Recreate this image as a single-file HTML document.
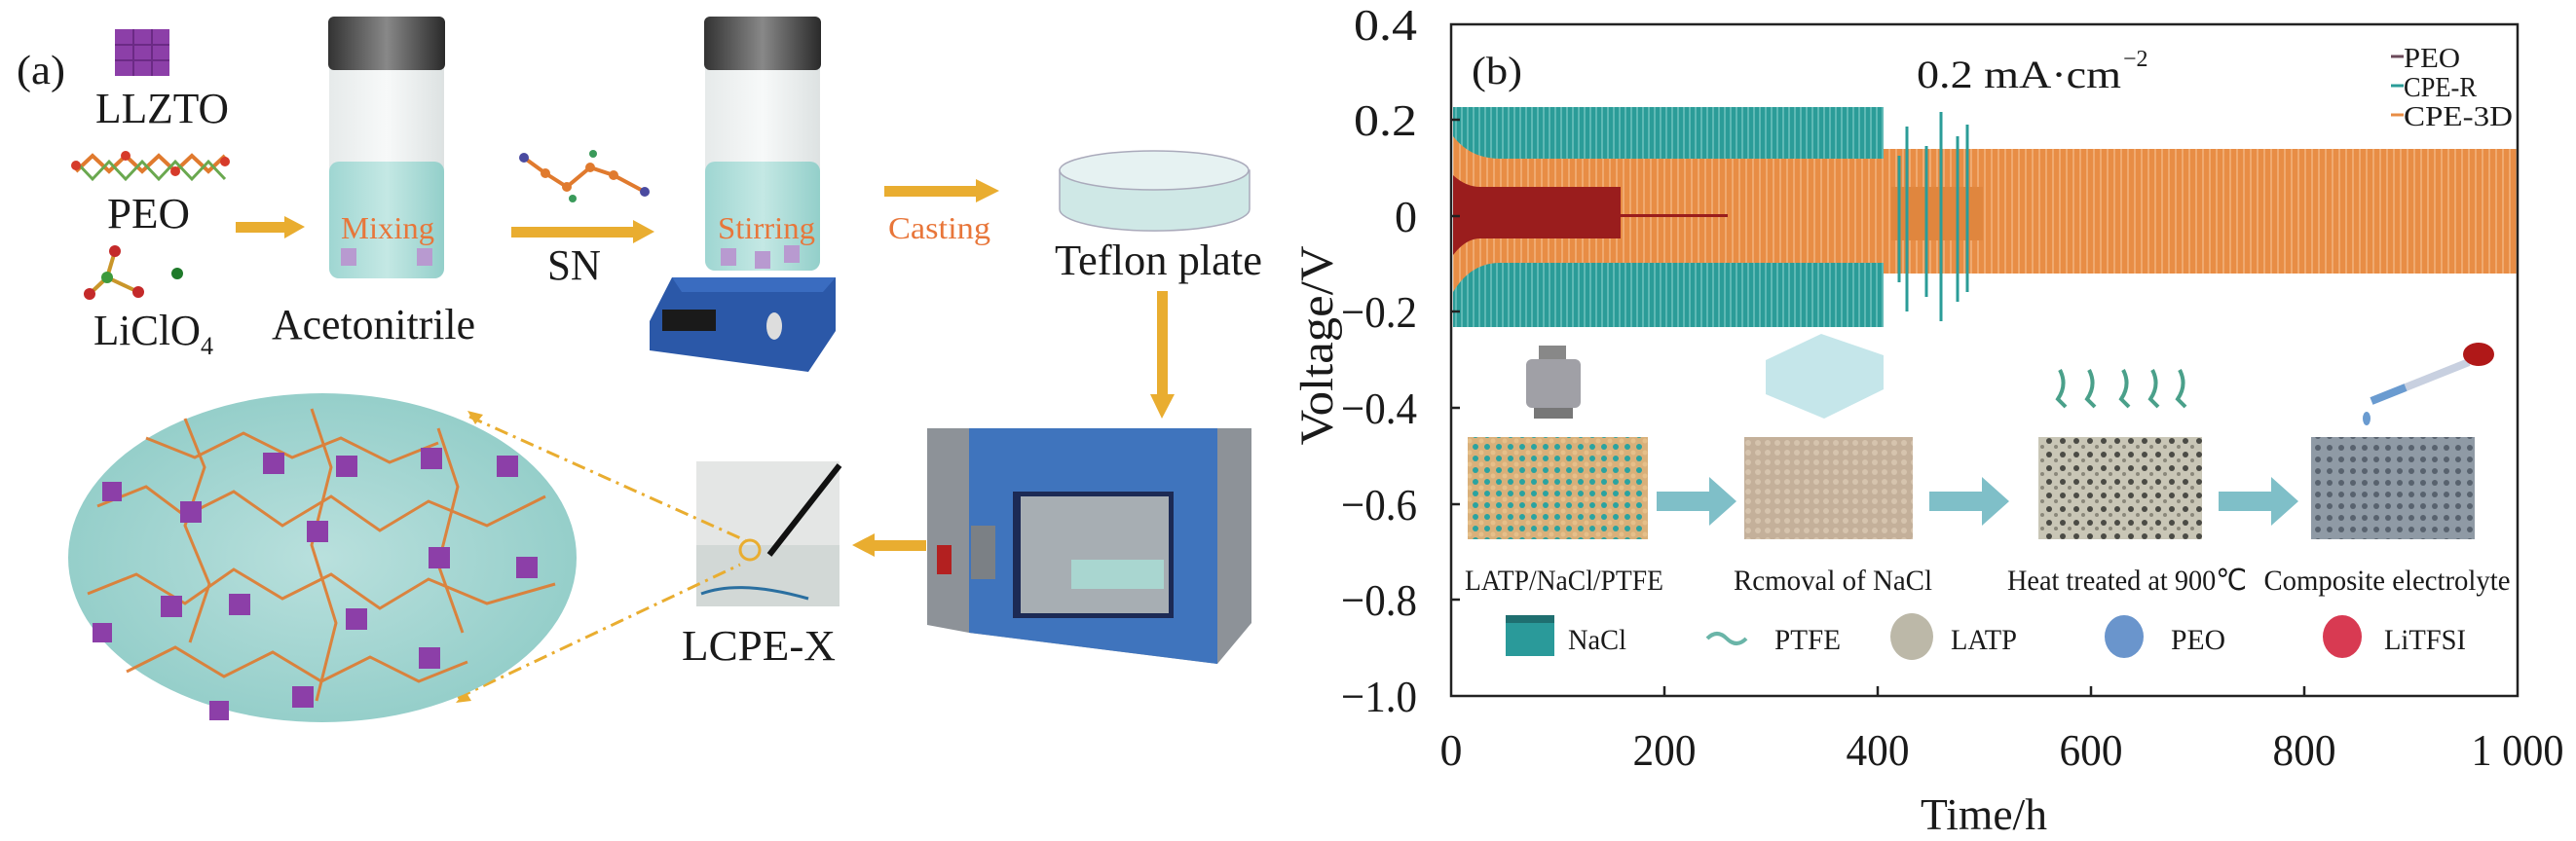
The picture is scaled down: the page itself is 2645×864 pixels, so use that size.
<!DOCTYPE html>
<html><head><meta charset="utf-8"><style>
html,body{margin:0;padding:0;background:#fff;}
svg{display:block;}
text{font-family:"Liberation Serif",serif;fill:#1a1a1a;}
</style></head><body>
<svg width="2645" height="864" viewBox="0 0 2645 864" xmlns="http://www.w3.org/2000/svg">
<defs>
<linearGradient id="glass" x1="0" x2="1" y1="0" y2="0">
<stop offset="0" stop-color="#e6eaea"/><stop offset="0.5" stop-color="#f7f9f9"/><stop offset="1" stop-color="#dde2e2"/></linearGradient>
<linearGradient id="liq" x1="0" x2="1"><stop offset="0" stop-color="#9fd6d2"/><stop offset="0.5" stop-color="#c4e8e4"/><stop offset="1" stop-color="#93cfca"/></linearGradient>
<linearGradient id="cap" x1="0" x2="1"><stop offset="0" stop-color="#333"/><stop offset="0.5" stop-color="#888"/><stop offset="1" stop-color="#2a2a2a"/></linearGradient>
<radialGradient id="circ" cx="0.5" cy="0.5" r="0.6"><stop offset="0" stop-color="#b9e0dd"/><stop offset="1" stop-color="#8ecbc6"/></radialGradient>
<pattern id="stripeT" width="6" height="10" patternUnits="userSpaceOnUse"><rect width="6" height="10" fill="#2b9c98"/><rect width="2" height="10" fill="#5fb9b5"/></pattern>
<pattern id="stripeO" width="7" height="10" patternUnits="userSpaceOnUse"><rect width="7" height="10" fill="#e88d45"/><rect width="2" height="10" fill="#f0aa70"/></pattern>
<pattern id="blk1" width="12" height="12" patternUnits="userSpaceOnUse"><rect width="12" height="12" fill="#d9b07a"/><circle cx="3" cy="3" r="3" fill="#2aa3a0"/><circle cx="9" cy="9" r="2.5" fill="#e6c08a"/></pattern>
<pattern id="blk2" width="10" height="10" patternUnits="userSpaceOnUse"><rect width="10" height="10" fill="#c4b09a"/><circle cx="5" cy="5" r="3" fill="#d6c4ae"/></pattern>
<pattern id="blk3" width="14" height="14" patternUnits="userSpaceOnUse"><rect width="14" height="14" fill="#c9c6b6"/><circle cx="4" cy="5" r="3" fill="#4b4b45"/><circle cx="11" cy="11" r="2" fill="#8a877a"/></pattern>
<pattern id="blk4" width="12" height="12" patternUnits="userSpaceOnUse"><rect width="12" height="12" fill="#8f9aa5"/><circle cx="4" cy="4" r="3" fill="#58626e"/></pattern>
</defs>

<!-- ===== Panel (a) ===== -->
<text x="17" y="86" font-size="42" textLength="50" lengthAdjust="spacingAndGlyphs">(a)</text>
<!-- LLZTO cube -->
<rect x="118" y="30" width="56" height="48" fill="#8c3fa8"/>
<g stroke="#6b2a85" stroke-width="2"><line x1="118" y1="46" x2="174" y2="46"/><line x1="118" y1="62" x2="174" y2="62"/><line x1="137" y1="30" x2="137" y2="78"/><line x1="156" y1="30" x2="156" y2="78"/></g>
<text x="98" y="126" font-size="44" textLength="137" lengthAdjust="spacingAndGlyphs">LLZTO</text>
<!-- PEO chain -->
<polyline points="78,176 95,160 112,176 129,160 146,176 163,160 180,176 197,160 214,176 231,160" fill="none" stroke="#e07a2e" stroke-width="4"/>
<polyline points="78,166 95,184 112,166 129,184 146,166 163,184 180,166 197,184 214,166 231,184" fill="none" stroke="#6aa84f" stroke-width="3"/>
<g fill="#d63a2a"><circle cx="78" cy="170" r="5"/><circle cx="129" cy="160" r="5"/><circle cx="180" cy="176" r="5"/><circle cx="231" cy="166" r="5"/></g>
<text x="110" y="234" font-size="44" textLength="85" lengthAdjust="spacingAndGlyphs">PEO</text>
<!-- LiClO4 -->
<g stroke="#c9962a" stroke-width="4"><line x1="110" y1="285" x2="118" y2="258"/><line x1="110" y1="285" x2="92" y2="302"/><line x1="110" y1="285" x2="142" y2="300"/><line x1="110" y1="285" x2="108" y2="290"/></g>
<g fill="#c42a2a"><circle cx="118" cy="258" r="6"/><circle cx="92" cy="302" r="6"/><circle cx="142" cy="300" r="6"/></g>
<circle cx="110" cy="285" r="6" fill="#3d9a3d"/><circle cx="182" cy="281" r="6" fill="#1f7a2a"/>
<text x="96" y="354" font-size="44" textLength="110" lengthAdjust="spacingAndGlyphs">LiClO</text>
<text x="206" y="364" font-size="26">4</text>
<!-- arrow 1 -->
<g fill="#e9ad30"><rect x="242" y="228" width="52" height="11"/><polygon points="292,222 313,233 292,245"/></g>
<!-- vial 1 -->
<rect x="338" y="38" width="118" height="248" rx="10" fill="url(#glass)"/>
<rect x="338" y="166" width="118" height="120" rx="10" fill="url(#liq)"/>
<rect x="337" y="17" width="120" height="55" rx="6" fill="url(#cap)"/>
<text x="350" y="245" font-size="32" fill="#e8763a" style="fill:#e8763a" textLength="96" lengthAdjust="spacingAndGlyphs">Mixing</text>
<rect x="350" y="255" width="16" height="18" fill="#b89ad0"/><rect x="428" y="255" width="16" height="18" fill="#b89ad0"/>
<text x="279" y="348" font-size="44" textLength="209" lengthAdjust="spacingAndGlyphs">Acetonitrile</text>
<!-- SN molecule -->
<polyline points="538,162 560,178 582,192 606,172 630,180 660,196" fill="none" stroke="#e07a2e" stroke-width="4"/>
<g fill="#e07a2e"><circle cx="560" cy="178" r="5"/><circle cx="582" cy="192" r="5"/><circle cx="606" cy="172" r="5"/><circle cx="630" cy="180" r="5"/></g>
<circle cx="538" cy="162" r="5" fill="#4a4aa0"/><circle cx="662" cy="197" r="5" fill="#4a4aa0"/>
<circle cx="609" cy="158" r="4" fill="#3a9a5a"/><circle cx="588" cy="204" r="4" fill="#3a9a5a"/>
<!-- arrow 2 -->
<g fill="#e9ad30"><rect x="525" y="233" width="128" height="11"/><polygon points="650,226 672,238 650,250"/></g>
<text x="562" y="287" font-size="44" textLength="55" lengthAdjust="spacingAndGlyphs">SN</text>
<!-- vial 2 + stirrer -->
<polygon points="667,330 690,285 858,285 858,340 830,382 667,360" fill="#2b58a8"/>
<polygon points="690,285 858,285 845,300 700,300" fill="#3a6cc0"/>
<rect x="680" y="318" width="55" height="22" fill="#1a1a1a"/>
<ellipse cx="795" cy="335" rx="8" ry="14" fill="#ddd"/>
<rect x="724" y="38" width="118" height="240" rx="10" fill="url(#glass)"/>
<rect x="724" y="166" width="118" height="112" rx="10" fill="url(#liq)"/>
<rect x="723" y="17" width="120" height="55" rx="6" fill="url(#cap)"/>
<text x="737" y="245" font-size="32" style="fill:#e8763a" textLength="100" lengthAdjust="spacingAndGlyphs">Stirring</text>
<rect x="740" y="255" width="16" height="18" fill="#b89ad0"/><rect x="775" y="258" width="16" height="18" fill="#b89ad0"/><rect x="805" y="252" width="16" height="18" fill="#b89ad0"/>
<!-- arrow 3 -->
<g fill="#e9ad30"><rect x="908" y="191" width="97" height="11"/><polygon points="1002,184 1026,196 1002,208"/></g>
<text x="912" y="245" font-size="32" style="fill:#e8763a" textLength="105" lengthAdjust="spacingAndGlyphs">Casting</text>
<!-- petri dish -->
<path d="M1088,175 L1088,215 A97,22 0 0 0 1283,215 L1283,175 Z" fill="#cfe8e6" stroke="#aab" stroke-width="1.5"/>
<ellipse cx="1185" cy="175" rx="97" ry="20" fill="#e6f2f2" stroke="#aab" stroke-width="1.5"/>
<text x="1083" y="282" font-size="44" textLength="213" lengthAdjust="spacingAndGlyphs">Teflon plate</text>
<!-- down arrow -->
<g fill="#e9ad30"><rect x="1188" y="299" width="11" height="110"/><polygon points="1181,405 1206,405 1193,430"/></g>
<!-- oven -->
<polygon points="952,440 1285,440 1285,640 1250,682 995,650 952,642" fill="#8d9298"/>
<polygon points="995,440 1250,440 1250,682 995,650" fill="#3f74bd"/>
<rect x="1040" y="505" width="165" height="130" fill="#1c2a55"/>
<rect x="1048" y="510" width="152" height="120" fill="#a7aeb3"/>
<rect x="1100" y="575" width="95" height="30" fill="#a9d6d0"/>
<rect x="962" y="560" width="15" height="30" fill="#b32020"/>
<rect x="997" y="540" width="25" height="55" fill="#7b8085"/>
<!-- left arrow -->
<g fill="#e9ad30"><rect x="895" y="555" width="56" height="11"/><polygon points="898,548 875,560 898,572"/></g>
<!-- photo -->
<rect x="715" y="474" width="147" height="149" fill="#e4e6e5"/>
<rect x="715" y="560" width="147" height="63" fill="#d2d8d6"/>
<line x1="862" y1="478" x2="790" y2="570" stroke="#111" stroke-width="6"/>
<circle cx="770" cy="565" r="10" fill="none" stroke="#e9ad30" stroke-width="3"/>
<path d="M720,610 Q760,595 830,615" stroke="#2a6fa0" stroke-width="3" fill="none"/>
<text x="700" y="678" font-size="44" textLength="158" lengthAdjust="spacingAndGlyphs">LCPE-X</text>
<!-- dashed lines -->
<g stroke="#e9ad30" stroke-width="3" stroke-dasharray="14,6,3,6" fill="none">
<line x1="482" y1="428" x2="765" y2="555"/><line x1="470" y1="717" x2="760" y2="580"/></g>
<polygon points="480,422 496,426 488,436" fill="#e9ad30"/>
<polygon points="468,722 484,720 478,710" fill="#e9ad30"/>
<!-- big circle -->
<ellipse cx="331" cy="573" rx="261" ry="169" fill="url(#circ)"/>
<g stroke="#e07a2e" stroke-width="3" fill="none" opacity="0.9">
<polyline points="100,520 150,500 190,530 240,505 290,540 340,510 390,545 440,515 500,540 560,510"/>
<polyline points="90,610 140,590 190,620 240,585 290,615 340,590 390,625 440,595 500,620 570,600"/>
<polyline points="130,690 180,665 230,695 280,670 330,700 380,675 430,700 480,680"/>
<polyline points="150,450 200,470 250,445 300,470 350,450 400,475 450,455"/>
<polyline points="190,430 210,480 190,540 215,600 195,660"/>
<polyline points="320,420 340,480 320,560 345,640 325,720"/>
<polyline points="450,440 470,500 450,580 475,650"/>
</g>
<g fill="#8c3fa8">
<rect x="270" y="465" width="22" height="22"/><rect x="345" y="468" width="22" height="22"/><rect x="432" y="460" width="22" height="22"/><rect x="510" y="468" width="22" height="22"/>
<rect x="185" y="515" width="22" height="22"/><rect x="315" y="535" width="22" height="22"/><rect x="440" y="562" width="22" height="22"/><rect x="530" y="572" width="22" height="22"/>
<rect x="105" y="495" width="20" height="20"/><rect x="235" y="610" width="22" height="22"/><rect x="355" y="625" width="22" height="22"/><rect x="165" y="612" width="22" height="22"/>
<rect x="430" y="665" width="22" height="22"/><rect x="300" y="705" width="22" height="22"/><rect x="215" y="720" width="20" height="20"/><rect x="95" y="640" width="20" height="20"/>
</g>

<!-- ===== Panel (b) ===== -->
<!-- data -->
<rect x="1492" y="110" width="442" height="226" fill="url(#stripeT)"/>
<path d="M1492,140 Q1510,163 1540,163 L1934,163 L1934,270 L1540,270 Q1510,270 1492,300 Z" fill="url(#stripeO)"/>
<rect x="1934" y="153" width="651" height="128" fill="url(#stripeO)"/>
<rect x="1942" y="192" width="94" height="55" fill="#e0863e"/>
<path d="M1492,180 Q1505,192 1520,192 L1664,192 L1664,245 L1520,245 Q1505,245 1492,262 Z" fill="#9a1d1d"/>
<rect x="1664" y="220" width="110" height="3" fill="#9a1d1d"/>
<g stroke="#2b9c98" stroke-width="3">
<line x1="1958" y1="130" x2="1958" y2="320"/><line x1="1978" y1="150" x2="1978" y2="305"/><line x1="1993" y1="115" x2="1993" y2="330"/><line x1="2010" y1="140" x2="2010" y2="310"/><line x1="2020" y1="128" x2="2020" y2="300"/><line x1="1950" y1="160" x2="1950" y2="290"/></g>
<line x1="1925" y1="110" x2="1933" y2="336" stroke="#fff" stroke-width="0"/>
<!-- axes -->
<rect x="1490" y="25" width="1095" height="690" fill="none" stroke="#222" stroke-width="2.5"/>
<g stroke="#222" stroke-width="2.5">
<line x1="1490" y1="123" x2="1499" y2="123"/><line x1="1490" y1="222" x2="1499" y2="222"/><line x1="1490" y1="320" x2="1499" y2="320"/><line x1="1490" y1="419" x2="1499" y2="419"/><line x1="1490" y1="518" x2="1499" y2="518"/><line x1="1490" y1="616" x2="1499" y2="616"/>
<line x1="1709" y1="715" x2="1709" y2="705"/><line x1="1928" y1="715" x2="1928" y2="705"/><line x1="2147" y1="715" x2="2147" y2="705"/><line x1="2366" y1="715" x2="2366" y2="705"/>
</g>
<g font-size="46" text-anchor="end">
<text x="1455" y="41" textLength="65" lengthAdjust="spacingAndGlyphs">0.4</text>
<text x="1455" y="139" textLength="65" lengthAdjust="spacingAndGlyphs">0.2</text>
<text x="1455" y="238">0</text>
<text x="1455" y="336" textLength="78" lengthAdjust="spacingAndGlyphs">−0.2</text>
<text x="1455" y="435" textLength="78" lengthAdjust="spacingAndGlyphs">−0.4</text>
<text x="1455" y="534" textLength="78" lengthAdjust="spacingAndGlyphs">−0.6</text>
<text x="1455" y="632" textLength="78" lengthAdjust="spacingAndGlyphs">−0.8</text>
<text x="1455" y="731" textLength="78" lengthAdjust="spacingAndGlyphs">−1.0</text>
</g>
<g font-size="46" text-anchor="middle">
<text x="1490" y="786">0</text>
<text x="1709" y="786" textLength="65" lengthAdjust="spacingAndGlyphs">200</text>
<text x="1928" y="786" textLength="65" lengthAdjust="spacingAndGlyphs">400</text>
<text x="2147" y="786" textLength="65" lengthAdjust="spacingAndGlyphs">600</text>
<text x="2366" y="786" textLength="65" lengthAdjust="spacingAndGlyphs">800</text>
<text x="2585" y="786" textLength="95" lengthAdjust="spacingAndGlyphs">1 000</text>
</g>
<text x="2037" y="852" font-size="46" text-anchor="middle" textLength="130" lengthAdjust="spacingAndGlyphs">Time/h</text>
<text transform="translate(1368,355) rotate(-90)" font-size="48" text-anchor="middle" textLength="205" lengthAdjust="spacingAndGlyphs">Voltage/V</text>
<text x="1511" y="86" font-size="40" textLength="52" lengthAdjust="spacingAndGlyphs">(b)</text>
<text x="1968" y="90" font-size="40" textLength="210" lengthAdjust="spacingAndGlyphs">0.2 mA·cm</text>
<text x="2180" y="68" font-size="24">−2</text>
<!-- legend -->
<g stroke-width="3"><line x1="2455" y1="58" x2="2468" y2="58" stroke="#6b4a5a"/><line x1="2455" y1="88" x2="2468" y2="88" stroke="#2b9c98"/><line x1="2455" y1="118" x2="2468" y2="118" stroke="#e88d45"/></g>
<g font-size="28"><text x="2468" y="69" textLength="58" lengthAdjust="spacingAndGlyphs">PEO</text><text x="2468" y="99" textLength="75" lengthAdjust="spacingAndGlyphs">CPE-R</text><text x="2468" y="129" textLength="112" lengthAdjust="spacingAndGlyphs">CPE-3D</text></g>
<!-- schematic icons -->
<rect x="1580" y="355" width="28" height="14" fill="#888"/><rect x="1567" y="369" width="56" height="50" rx="6" fill="#a0a0a6"/><rect x="1575" y="419" width="40" height="11" fill="#777"/>
<polygon points="1813,370 1870,343 1934,365 1934,400 1873,430 1813,405" fill="#bfe3e8" opacity="0.9"/>
<g stroke="#4aa08a" stroke-width="4" fill="none"><path d="M2115,380 q8,15 -2,30 l8,8"/><path d="M2145,380 q8,15 -2,30 l8,8"/><path d="M2180,380 q8,15 -2,30 l8,8"/><path d="M2210,380 q8,15 -2,30 l8,8"/><path d="M2238,380 q8,15 -2,30 l8,8"/></g>
<line x1="2435" y1="412" x2="2535" y2="372" stroke="#c8d0e0" stroke-width="8"/><line x1="2435" y1="412" x2="2470" y2="398" stroke="#6a9bd0" stroke-width="8"/>
<ellipse cx="2545" cy="364" rx="16" ry="12" fill="#b01818"/><ellipse cx="2430" cy="430" rx="4" ry="7" fill="#6a9bd0"/>
<!-- blocks -->
<rect x="1507" y="449" width="185" height="105" fill="url(#blk1)"/>
<rect x="1791" y="449" width="173" height="105" fill="url(#blk2)"/>
<rect x="2093" y="449" width="168" height="105" fill="url(#blk3)"/>
<rect x="2373" y="449" width="168" height="105" fill="url(#blk4)"/>
<g fill="#7fbfc8">
<polygon points="1701,505 1755,505 1755,490 1783,515 1755,540 1755,525 1701,525"/>
<polygon points="1981,505 2035,505 2035,490 2063,515 2035,540 2035,525 1981,525"/>
<polygon points="2278,505 2332,505 2332,490 2360,515 2332,540 2332,525 2278,525"/>
</g>
<g font-size="30" text-anchor="middle">
<text x="1606" y="606" textLength="204" lengthAdjust="spacingAndGlyphs">LATP/NaCl/PTFE</text>
<text x="1882" y="606" textLength="204" lengthAdjust="spacingAndGlyphs">Rcmoval of NaCl</text>
<text x="2184" y="606" textLength="246" lengthAdjust="spacingAndGlyphs">Heat treated at 900℃</text>
<text x="2451" y="606" textLength="253" lengthAdjust="spacingAndGlyphs">Composite electrolyte</text>
</g>
<rect x="1546" y="632" width="50" height="42" fill="#2a9a9a"/><rect x="1546" y="632" width="50" height="8" fill="#1f6f70"/>
<path d="M1753,656 q10,-10 20,0 t20,0" stroke="#6ab5a8" stroke-width="4" fill="none"/>
<ellipse cx="1963" cy="654" rx="22" ry="24" fill="#bcb8a8"/>
<ellipse cx="2181" cy="654" rx="20" ry="22" fill="#6a95cc"/>
<ellipse cx="2405" cy="654" rx="20" ry="22" fill="#d83a52"/>
<g font-size="30" text-anchor="middle">
<text x="1640" y="667" textLength="60" lengthAdjust="spacingAndGlyphs">NaCl</text>
<text x="1856" y="667" textLength="68" lengthAdjust="spacingAndGlyphs">PTFE</text>
<text x="2037" y="667" textLength="68" lengthAdjust="spacingAndGlyphs">LATP</text>
<text x="2257" y="667" textLength="56" lengthAdjust="spacingAndGlyphs">PEO</text>
<text x="2490" y="667" textLength="84" lengthAdjust="spacingAndGlyphs">LiTFSI</text>
</g>
</svg>
</body></html>
